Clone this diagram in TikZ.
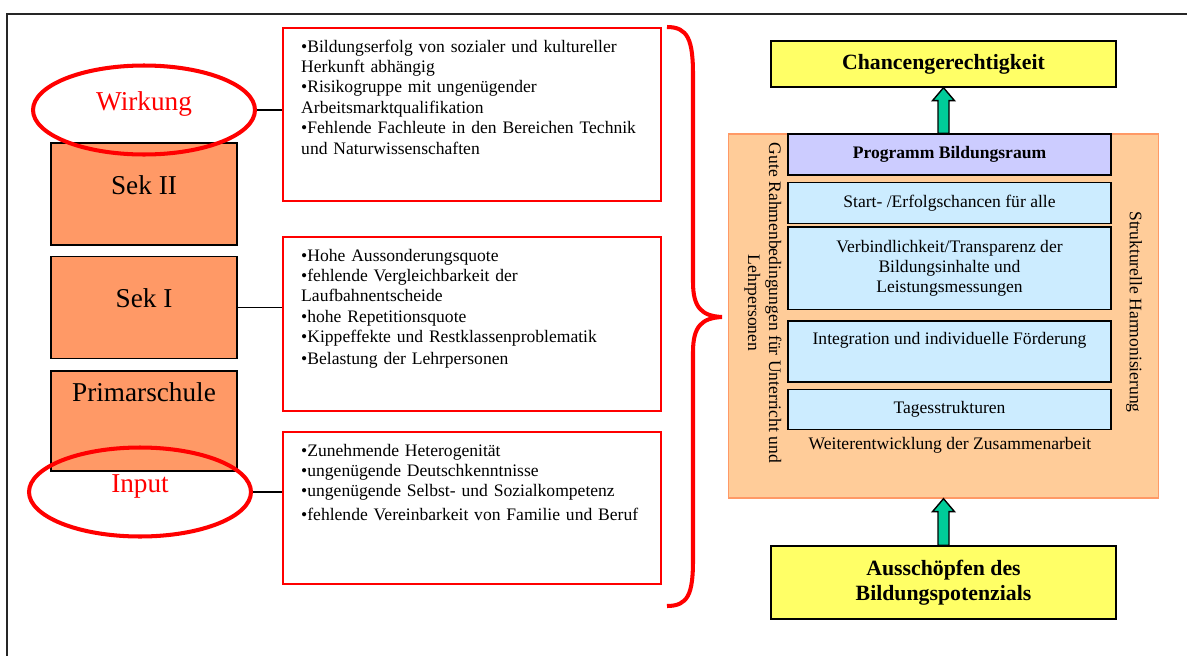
\documentclass[tikz,border=0pt]{standalone}
\usepackage{fontspec}
\setmainfont{Liberation Serif}
\usetikzlibrary{positioning,shapes.geometric,calc}

\definecolor{schulorange}{HTML}{FF9966}
\definecolor{raumorange}{HTML}{FFCC99}
\definecolor{zielgelb}{HTML}{FFFF66}
\definecolor{stufenblau}{HTML}{CCECFF}
\definecolor{programm}{HTML}{CCCCFF}
\definecolor{pfeilgruen}{HTML}{00CC99}

\begin{document}
\begin{tikzpicture}[x=0.02cm,y=-0.02cm,
  every node/.style={font=\fontsize{10}{11.6}\selectfont},
  schule/.style={draw,fill=schulorange,line width=0.8pt,minimum width=3.72cm,inner sep=0pt,text height=1.02cm,text depth=1.02cm,font=\fontsize{15.5}{18}\selectfont},
  kreis/.style={draw=red,ellipse,line width=2.3pt,minimum width=4.44cm,minimum height=1.78cm,inner sep=0pt,text height=5pt,text depth=5pt,text=red,font=\fontsize{15.5}{18}\selectfont},
  problem/.style={draw=red,line width=1.4pt,text width=6.84cm,align=left,inner xsep=0.36cm,inner ysep=0pt,text height=0.48cm,anchor=north west},
  ziel/.style={draw,fill=zielgelb,line width=0.8pt,minimum width=6.9cm,align=center,font=\fontsize{12.4}{14.2}\selectfont\bfseries},
  stufe/.style={draw,fill=stufenblau,line width=0.8pt,minimum width=6.46cm,inner sep=0pt,align=center},
  pfeil/.style={draw,fill=pfeilgruen,line width=0.8pt}]
\useasboundingbox (0,0) rectangle (1187,656);
\draw[line width=0.8pt,black!85] (7,656) -- (7,14) -- (1187,14);

% Schulstufen links
\node[schule] (sek2) at (144,194) {Sek II};
\node[schule] (sek1) at (144,307.5) {Sek I};
\node[schule,text height=0.6cm,text depth=1.4cm] (prim) at (144,421) {Primarschule};
\node[kreis] (wirk) at (144,110) {Wirkung};
\node[kreis] (input) at (140,492) {Input};

% Probleme
\node[problem,text depth=2.98cm] (prob1) at (282,27) {\textbullet Bildungserfolg von sozialer und kultureller\\Herkunft abhängig\\\textbullet Risikogruppe mit ungenügender\\Arbeitsmarktqualifikation\\\textbullet Fehlende Fachleute in den Bereichen Technik\\und Naturwissenschaften};
\node[problem,text depth=3.0cm] (prob2) at (282,236) {\textbullet Hohe Aussonderungsquote\\\textbullet fehlende Vergleichbarkeit der\\Laufbahnentscheide\\\textbullet hohe Repetitionsquote\\\textbullet Kippeffekte und Restklassenproblematik\\[1pt]\textbullet Belastung der Lehrpersonen};
\node[problem,text depth=2.56cm] (prob3) at (282,431) {\textbullet Zunehmende Heterogenität\\\textbullet ungenügende Deutschkenntnisse\\\textbullet ungenügende Selbst- und Sozialkompetenz\\[2pt]\textbullet fehlende Vereinbarkeit von Familie und Beruf};
\draw[line width=0.6pt] (wirk.east) -- (wirk.east -| prob1.west);
\draw[line width=0.6pt] (sek1.east) -- (sek1.east -| prob2.west);
\draw[line width=0.6pt] (input.east) -- (input.east -| prob3.west);

% Klammer
\draw[red,line width=2.3pt] (667,27) .. controls (688,27) and (693,40) .. (693,75) -- (693,282)
  .. controls (693,308) and (702,316) .. (722,317) .. controls (702,318) and (693,326) .. (693,352)
  -- (693,560) .. controls (693,594) and (688,606) .. (667,606);

% Bildungsraum rechts
\node[draw=schulorange,fill=raumorange,line width=0.8pt,minimum width=8.6cm,minimum height=7.28cm] (raum) at (943.5,316) {};
\node[ziel,minimum height=0.92cm] (chancen) at (943.5,64) {Chancengerechtigkeit};
\node[ziel,minimum height=1.46cm] (ausch) at (943.5,582.5) {Ausschöpfen des\\Bildungspotenzials};
\node[stufe,fill=programm,minimum height=0.82cm,font=\fontsize{10}{11.6}\selectfont\bfseries] (prog) at (949.5,154.5) {Programm Bildungsraum};
\node[stufe,minimum height=0.82cm,below=0.12cm of prog] (start) {Start- /Erfolgschancen für alle};
\node[stufe,minimum height=1.66cm,below=0.04cm of start] (verb) {Verbindlichkeit/Transparenz der\\Bildungsinhalte und\\Leistungsmessungen};
\node[stufe,text height=0.46cm,text depth=0.76cm,below=0.2cm of verb] (integ) {Integration und individuelle Förderung};
\node[stufe,minimum height=0.8cm,below=0.12cm of integ] (tages) {Tagesstrukturen};
\node (weiter) at (950,445) {Weiterentwicklung der Zusammenarbeit};
\node[rotate=-90,align=center,font=\fontsize{10}{12}\selectfont] (gute) at (763,303) {Gute Rahmenbedingungen für Unterricht und\\Lehrpersonen};
\node[rotate=-90] (struk) at (1134,312) {Strukturelle Harmonisierung};

\foreach \von/\nach in {raum/chancen,ausch/raum}
  \draw[pfeil] ($(\von.north)+(-5.5,0)$) -- ($(\nach.south)+(-5.5,13)$) -- ($(\nach.south)+(-11,13)$) -- (\nach.south)
    -- ($(\nach.south)+(11,13)$) -- ($(\nach.south)+(5.5,13)$) -- ($(\von.north)+(5.5,0)$) -- cycle;
\end{tikzpicture}
\end{document}
